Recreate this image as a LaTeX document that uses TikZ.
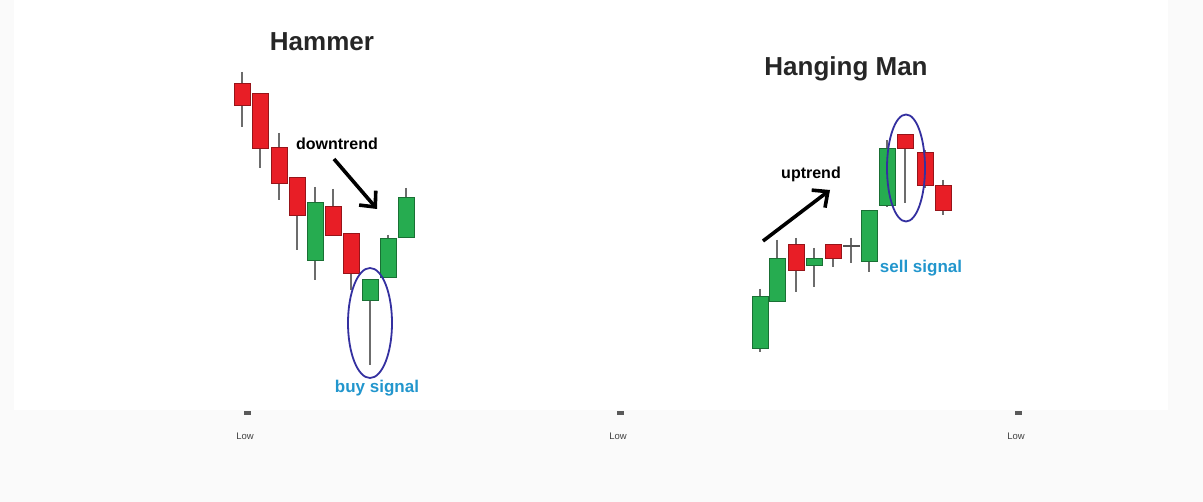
\documentclass[tikz,border=0pt]{standalone}
\usepackage{fontspec}
\setmainfont{Liberation Sans}
\usepackage{tikz}
\usetikzlibrary{shapes.geometric,arrows.meta}
\definecolor{cred}{RGB}{232,30,38}
\definecolor{cgreen}{RGB}{38,172,80}
\definecolor{cring}{RGB}{52,48,160}
\definecolor{csig}{RGB}{34,150,205}
\newcommand{\bw}{16}
%% candle: name, colour, x, wick top, body top, body bottom, wick bottom
\newcommand{\cdl}[7]{%
  \draw[wick] (#3,#4) -- (#3,#7);
  \node[candle,fill=#2,draw=#2!65!black
       ,minimum height={#6-#5}] (#1) at (#3,{(#5+#6)/2}) {};}
\tikzset{
  candle/.style={rectangle,inner sep=0pt,minimum width=\bw,line width=0.7pt},
  wick/.style={gray!85!black,line width=1.3pt},
  ring/.style={ellipse,draw=cring,line width=1.8pt,inner sep=0pt},
  trend/.style={-{Straight Barb[length=12pt,width=22pt,line width=3.6pt]},line width=3.6pt},
  hd/.style={font=\fontsize{26}{30}\selectfont\bfseries,text=black!85},
  lbl/.style={font=\fontsize{16}{18}\selectfont\bfseries},
  sig/.style={font=\fontsize{17}{19}\selectfont\bfseries,text=csig},
  low/.style={font=\fontsize{9.5}{11}\selectfont,text=black!75},
  lowtick/.style={fill=black!65,inner sep=0pt,minimum width=7,minimum height=4},
}

\begin{document}
\begin{tikzpicture}[x=1pt,y=-1pt]
  \useasboundingbox (0,0) rectangle (1203,502);
  \fill[gray!4] (0,0) rectangle (1203,502);
  \fill[white] (14,0) rectangle (1168,410);

  %% Hammer
  \node (ham) [hd] at (322,42) {Hammer};
  \cdl{h1}{cred}{242}{72}{83}{105}{127}
  \cdl{h2}{cred}{260}{93}{93}{148}{168}
  \cdl{h3}{cred}{279}{133}{147}{183}{200}
  \cdl{h4}{cred}{297}{177}{177}{215}{250}
  \cdl{h5}{cgreen}{315}{187}{202}{260}{280}
  \cdl{h6}{cred}{333}{189}{206}{235}{235}
  \cdl{h7}{cred}{351}{233}{233}{273}{290}
  \cdl{h8}{cgreen}{370}{279}{279}{300}{365}
  \cdl{h9}{cgreen}{388}{235}{238}{277}{277}
  \cdl{h10}{cgreen}{406}{188}{197}{237}{237}

  \node (down) [lbl] at (337,144) {downtrend};
  \coordinate (dt0) at (334,159);
  \coordinate (dt1) at (377,209);
  \draw[trend] (dt0) -- (dt1);

  \node (hring) [ring,minimum width=44,minimum height=110] at (370,323) {};
  \node (buy) [sig] at (377,388) {buy signal};

  %% Hanging Man
  \node (hang) [hd] at (846,69) {Hanging Man};
  \cdl{m1}{cgreen}{760}{289}{296}{348}{352}
  \cdl{m2}{cgreen}{777}{240}{258}{301}{301}
  \cdl{m3}{cred}{796}{238}{244}{270}{292}
  \cdl{m4}{cgreen}{814}{248}{258}{265}{287}
  \cdl{m5}{cred}{833}{244}{244}{258}{267}
  \cdl{m6}{gray}{851}{238}{245.5}{246.5}{263}
  \cdl{m7}{cgreen}{869}{210}{210}{261}{272}
  \cdl{m8}{cgreen}{887}{140}{148}{205}{207}
  \cdl{m9}{cred}{905}{134}{134}{148}{203}
  \cdl{m10}{cred}{925}{150}{152}{185}{188}
  \cdl{m11}{cred}{943}{180}{185}{210}{215}

  \node (up) [lbl] at (811,174) {uptrend};
  \coordinate (ut0) at (763,241);
  \coordinate (ut1) at (830,190);
  \draw[trend] (ut0) -- (ut1);

  \node (mring) [ring,minimum width=38,minimum height=107] at (906,168) {};
  \node (sell) [sig] at (921,268) {sell signal};

  %% lows
  \node (t1) [lowtick] at (247,413) {};
  \node (t2) [lowtick] at (620,413) {};
  \node (t3) [lowtick] at (1018,413) {};
  \node (l1) [low] at (245,436) {Low};
  \node (l2) [low] at (618,436) {Low};
  \node (l3) [low] at (1016,436) {Low};
\end{tikzpicture}
\end{document}
